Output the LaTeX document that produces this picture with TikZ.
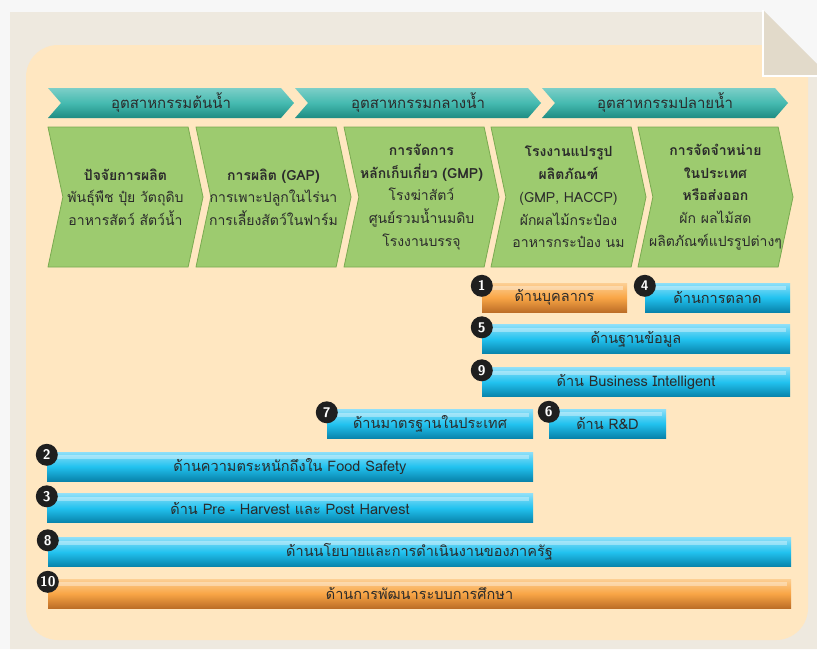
\documentclass[tikz,border=0pt]{standalone}
\usepackage{fontspec}
\newfontfamily\thaifont[Script=Thai]{Loma}
\usetikzlibrary{shapes.symbols, calc}

\definecolor{pagebg}{HTML}{EEE9DF}
\definecolor{panelbg}{HTML}{FFE7C1}
\definecolor{foldbg}{HTML}{E2DACA}
\definecolor{tealmid}{HTML}{45BAB0}
\definecolor{tealdark}{HTML}{1E8C82}
\definecolor{greenmid}{HTML}{9DCB6F}
\definecolor{greendark}{HTML}{7AAA50}
\definecolor{bluemid}{HTML}{22C2EF}
\definecolor{bluedark}{HTML}{0883AB}
\definecolor{bluelight}{HTML}{8EDFF8}
\definecolor{orangemid}{HTML}{F9A646}
\definecolor{orangedark}{HTML}{BD6E27}
\definecolor{orangelight}{HTML}{FCCF94}
\definecolor{inktext}{HTML}{2B2B2B}

\begin{document}
\begin{tikzpicture}[
        x=1pt, y=-1pt,
        font=\thaifont\fontsize{14.5}{22.7}\selectfont, text=inktext,
        stage/.style={signal, signal to=east, signal from=west, signal pointer angle=98,
            minimum height=30, minimum width=246, inner sep=0,
            top color=tealmid!70!white, bottom color=tealdark, middle color=tealmid,
            font=\thaifont\fontsize{15}{16}\selectfont},
        chainbox/.style={signal, signal to=east, signal from=west, signal pointer angle=156,
            minimum height=140, minimum width=155, inner xsep=-8pt, inner ysep=0, align=center,
            fill=greenmid, draw=greendark, line width=0.8,
            font=\thaifont\fontsize{14}{22.7}\selectfont},
        hilite/.style={path picture={\fill[white, opacity=.35]
            ([xshift=4pt, yshift=-3pt]path picture bounding box.north west) rectangle
            ([xshift=-4pt, yshift=-7pt]path picture bounding box.north east);}},
        bluebar/.style={rectangle, minimum height=29, inner sep=0, hilite,
            top color=bluelight, bottom color=bluedark, middle color=bluemid},
        orangebar/.style={rectangle, minimum height=29, inner sep=0, hilite,
            top color=orangelight, bottom color=orangedark, middle color=orangemid},
        num/.style={circle, fill=black!88, text=white, minimum size=22, inner sep=0,
            font=\sffamily\bfseries\fontsize{14}{14}\selectfont}
    ]
        % page, panel and folded corner
        \useasboundingbox (0,0) rectangle (817,649);
        \fill[black!3] (0,0) rectangle (817,649);
        \fill[pagebg] (10,12) -- (763,12) -- (829,78) -- (829,649) -- (10,649) -- cycle;
        \fill[panelbg, rounded corners=32] (26,45) rectangle (808,640);
        \fill[foldbg] (763,10) -- (763,76) -- (829,76) -- cycle;
        \draw[white, line width=2.5] (763,10) -- (763,76) -- (829,76);

        % value chain
        \node[stage] (upstream) at (171,103) {อุตสาหกรรมต้นน้ำ};
        \node[stage] (midstream) at (418,103) {อุตสาหกรรมกลางน้ำ};
        \node[stage] (downstream) at (665,103) {อุตสาหกรรมปลายน้ำ};

        \node[chainbox] (inputs) at (125.5,197) {\textbf{ปัจจัยการผลิต}\\พันธุ์พืช ปุ๋ย วัตถุดิบ\\อาหารสัตว์ สัตว์น้ำ};
        \node[chainbox] (farming) at (273.5,197) {\textbf{การผลิต (GAP)}\\การเพาะปลูกในไร่นา\\การเลี้ยงสัตว์ในฟาร์ม};
        \node[chainbox] (postharvest) at (421.5,197) {\textbf{การจัดการ}\\\textbf{หลักเก็บเกี่ยว (GMP)}\\โรงฆ่าสัตว์\\ศูนย์รวมน้ำนมดิบ\\โรงงานบรรจุ};
        \node[chainbox] (processing) at (568.5,197) {\textbf{โรงงานแปรรูป}\\\textbf{ผลิตภัณฑ์}\\(GMP, HACCP)\\ผักผลไม้กระป๋อง\\อาหารกระป๋อง นม};
        \node[chainbox] (distribution) at (715.5,197) {\textbf{การจัดจำหน่าย}\\\textbf{ในประเทศ}\\\textbf{หรือส่งออก}\\ผัก ผลไม้สด\\ผลิตภัณฑ์แปรรูปต่างๆ};

        % areas
        \node[orangebar, minimum width=145] (staff) at (554.5,297.5) {ด้านบุคลากร};
        \node[bluebar, minimum width=145] (marketing) at (717.5,297.5) {ด้านการตลาด};
        \node[bluebar, minimum width=308] (database) at (636,339) {ด้านฐานข้อมูล};
        \node[bluebar, minimum width=308] (bi) at (636,382) {ด้าน Business Intelligent};
        \node[bluebar, minimum width=206] (standard) at (430,424) {ด้านมาตรฐานในประเทศ};
        \node[bluebar, minimum width=117] (rnd) at (607.5,423.5) {ด้าน R\&D};
        \node[bluebar, minimum width=486] (awareness) at (290,466.5) {ด้านความตระหนักถึงใน Food Safety};
        \node[bluebar, minimum width=486] (harvest) at (290,508) {ด้าน Pre - Harvest และ Post Harvest};
        \node[bluebar, minimum width=743] (policy) at (419.5,552) {ด้านนโยบายและการดำเนินงานของภาครัฐ};
        \node[orangebar, minimum width=743] (education) at (419.5,593.5) {ด้านการพัฒนาระบบการศึกษา};

        \foreach \n/\b in {1/staff, 4/marketing, 5/database, 9/bi, 7/standard,
                6/rnd, 2/awareness, 3/harvest, 8/policy, 10/education}
            \node[num] (num\n) at ([yshift=-3pt]\b.north west) {\n};
    \end{tikzpicture}
\end{document}
